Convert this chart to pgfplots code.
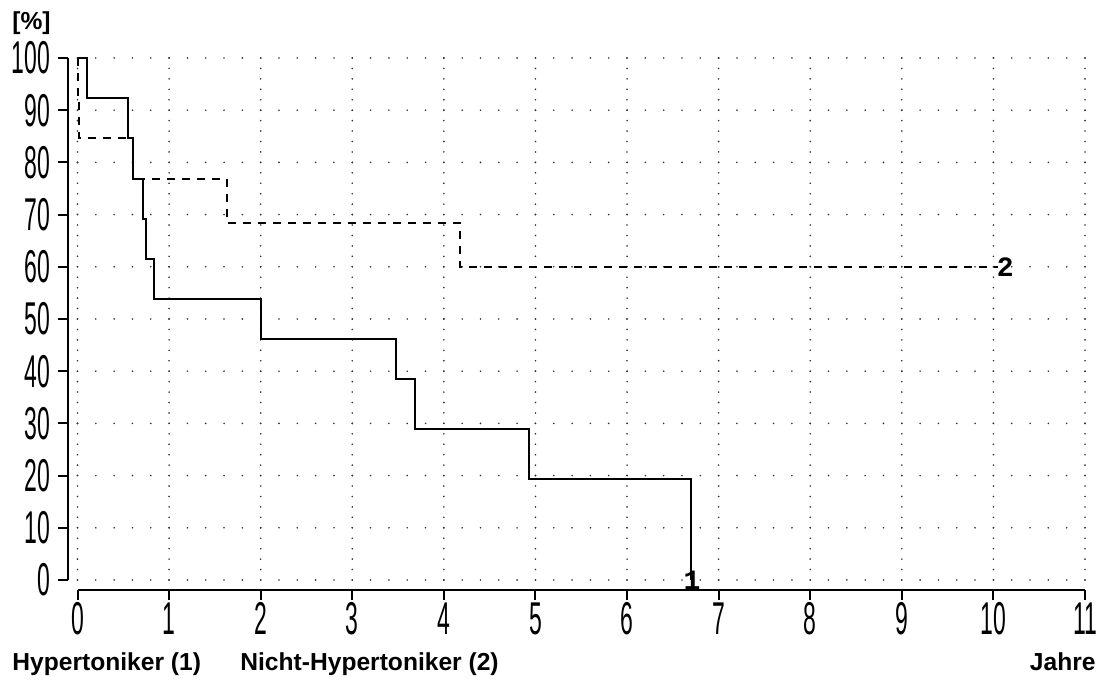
\documentclass[border=0pt]{standalone}
\usepackage{pgfplots}
\pgfplotsset{compat=1.18}
\usepackage{fontspec}
\setmainfont{Liberation Sans}
\newfontfamily\monofont{Liberation Mono}
\newcommand\tickfont{\fontsize{23}{23}\selectfont}
\begin{document}
\begin{tikzpicture}
\begin{axis}[
  scale only axis,
  width=503.75pt, height=261pt,
  xmin=0, xmax=11, ymin=0, ymax=100,
  axis lines*=left,
  axis x line shift=5pt,
  axis y line shift=4.75pt,
  axis line style={line width=1pt, black},
  tick align=outside,
  major tick length=5pt,
  every tick/.style={line width=1pt, black},
  xtick={0,1,...,11},
  ytick={0,10,...,100},
  xticklabel={\scalebox{0.5}[1]{\tickfont\pgfmathprintnumber[assume math mode=true]{\tick}}},
  yticklabel={\scalebox{0.5}[1]{\tickfont\pgfmathprintnumber[assume math mode=true]{\tick}}},
  xticklabel style={yshift=0pt, inner ysep=1pt},
  yticklabel style={xshift=-0.5pt, inner ysep=0pt},
  grid=major,
  x grid style={line width=0.9pt, black!80, line cap=round, dash pattern=on 0pt off 5.22pt},
  y grid style={line width=0.9pt, black!80, line cap=round, dash pattern=on 0pt off 9.159pt},
  clip=false,
]
% Hypertoniker (1)
\addplot[black, line width=1pt] coordinates {
 (0,100) (0.10,100) (0.10,92.3) (0.555,92.3) (0.555,84.6) (0.61,84.6) (0.61,76.9)
 (0.71,76.9) (0.71,69.2) (0.75,69.2) (0.75,61.5) (0.835,61.5) (0.835,53.8)
 (2.0,53.8) (2.0,46.2) (3.48,46.2) (3.48,38.5) (3.69,38.5) (3.69,28.9)
 (4.93,28.9) (4.93,19.3) (6.70,19.3) (6.70,0)
};
% Nicht-Hypertoniker (2)
\addplot[black, line width=1pt, dash pattern=on 4pt off 3.5pt] coordinates {
 (0.005,100) (0.005,92.3) (0.02,92.3) (0.02,84.6) (0.61,84.6) (0.61,76.9)
 (1.63,76.9) (1.63,68.4) (4.18,68.4) (4.18,59.9) (10.05,59.9)
};
\node[font=\fontsize{14}{14}\selectfont\monofont\bfseries] at (axis cs:6.71,0) {1};
\node[font=\fontsize{14}{14}\selectfont\monofont\bfseries] at (axis cs:10.13,60) {2};
\node[anchor=base west, inner sep=0pt, font=\fontsize{12.3}{12}\selectfont\bfseries] at (axis cs:-0.715,-17.4) {Hypertoniker (1)};
\node[anchor=base west, inner sep=0pt, font=\fontsize{12.3}{12}\selectfont\bfseries] at (axis cs:1.774,-17.4) {Nicht-Hypertoniker (2)};
\node[anchor=base east, inner sep=0pt, font=\fontsize{12.3}{12}\selectfont\bfseries] at (axis cs:11.12,-17.4) {Jahre};
\node[anchor=base west, inner sep=0pt, font=\fontsize{12.3}{12}\selectfont\bfseries] at (axis cs:-0.715,105.4) {[\%]};
\path (axis cs:-0.8462,-19.92) rectangle (axis cs:11.2403,111.11);
\end{axis}
\end{tikzpicture}
\end{document}
